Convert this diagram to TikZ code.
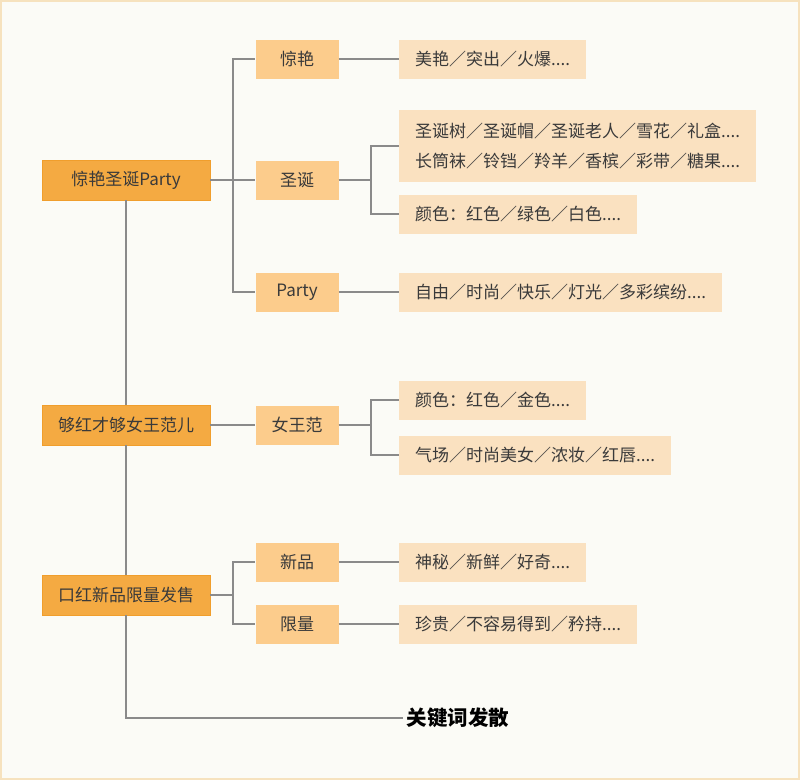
\documentclass[tikz,border=0pt]{standalone}
\usepackage{fontspec}
\newfontfamily\cjk{Noto Sans CJK SC}
\definecolor{frame}{HTML}{F6E2BE}
\definecolor{paper}{HTML}{FBFBF6}
\definecolor{topic}{HTML}{F4AA42}
\definecolor{topicline}{HTML}{F09E2C}
\definecolor{sub}{HTML}{FCCC8C}
\definecolor{leaf}{HTML}{FAE1C0}
\definecolor{ink}{HTML}{3A3A3A}
\definecolor{wire}{HTML}{8A8A8A}
\tikzset{
  topicbox/.style={fill=topic, draw=topicline, line width=0.8pt, minimum width=168pt,
    minimum height=40pt, inner sep=0pt, text=ink, font=\cjk\fontsize{17}{20}\selectfont},
  subbox/.style={fill=sub, minimum width=83pt, minimum height=39pt, inner sep=0pt,
    text=ink, font=\cjk\fontsize{17}{20}\selectfont},
  leafbox/.style={fill=leaf, anchor=west, minimum height=39pt, inner xsep=16pt,
    inner ysep=0pt, text=ink, font=\cjk\fontsize{17}{20}\selectfont},
  link/.style={draw=wire, line width=2pt}
}
\begin{document}
\begin{tikzpicture}[x=1pt, y=-1pt]
    \useasboundingbox (0,0) rectangle (800,780);
    \fill[frame] (0,0) rectangle (800,780);
    \fill[paper] (2,2) rectangle (798,778);

    \node[topicbox] (party) at (126,180) {惊艳圣诞Party};
    \node[topicbox] (queen) at (126,425) {够红才够女王范儿};
    \node[topicbox] (launch) at (126,595) {口红新品限量发售};
    \node[anchor=west, font=\cjk\bfseries\fontsize{20.5}{24}\selectfont] (key) at (403,718) {关键词发散};

    \node[subbox] (amaze) at (297,59) {惊艳};
    \node[subbox] (xmas) at (297,180) {圣诞};
    \node[subbox] (fun) at (297,292) {Party};
    \node[subbox] (diva) at (297,425) {女王范};
    \node[subbox] (new) at (297,562) {新品};
    \node[subbox] (limit) at (297,624) {限量};

    \node[leafbox] (amazeA) at (399,59) {美艳／突出／火爆....};
    \node[leafbox, minimum height=72pt, align=left, font=\cjk\fontsize{17}{30}\selectfont] (xmasA) at (399,146)
        {圣诞树／圣诞帽／圣诞老人／雪花／礼盒....\\长筒袜／铃铛／羚羊／香槟／彩带／糖果....};
    \node[leafbox] (xmasB) at (399,214) {颜色：红色／绿色／白色....};
    \node[leafbox] (funA) at (399,292) {自由／时尚／快乐／灯光／多彩缤纷....};
    \node[leafbox] (divaA) at (399,400) {颜色：红色／金色....};
    \node[leafbox] (divaB) at (399,455) {气场／时尚美女／浓妆／红唇....};
    \node[leafbox] (newA) at (399,562) {神秘／新鲜／好奇....};
    \node[leafbox] (limitA) at (399,624) {珍贵／不容易得到／矜持....};

    \draw[link] (party.south) -- (queen.north);
    \draw[link] (queen.south) -- (launch.north);
    \draw[link] (launch.south) |- (key.west);

    \draw[link] (party.east) -- ++(23,0) |- (amaze.west);
    \draw[link] (party.east) -- (xmas.west);
    \draw[link] (party.east) -- ++(23,0) |- (fun.west);
    \draw[link] (amaze.east) -- (amazeA.west);
    \draw[link] (xmas.east) -- ++(32,0) |- (xmasA.west);
    \draw[link] (xmas.east) -- ++(32,0) |- (xmasB.west);
    \draw[link] (fun.east) -- (funA.west);

    \draw[link] (queen.east) -- (diva.west);
    \draw[link] (diva.east) -- ++(32,0) |- (divaA.west);
    \draw[link] (diva.east) -- ++(32,0) |- (divaB.west);

    \draw[link] (launch.east) -- ++(23,0) |- (new.west);
    \draw[link] (launch.east) -- ++(23,0) |- (limit.west);
    \draw[link] (new.east) -- (newA.west);
    \draw[link] (limit.east) -- (limitA.west);
\end{tikzpicture}
\end{document}
